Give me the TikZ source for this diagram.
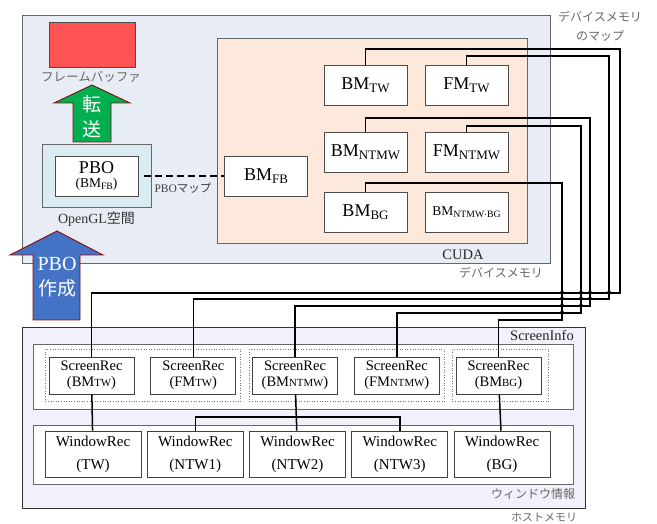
\documentclass[tikz,border=0pt]{standalone}
\usepackage{fontspec}
\usepackage{graphicx}
\setmainfont{Liberation Serif}
\newfontfamily\jp{Noto Sans CJK JP}

% subscripts of the buffer names
\newcommand\lo[1]{\raisebox{-0.35ex}{\scalebox{0.72}{#1}}}
\newcommand\sm[1]{\scalebox{0.75}{#1}}

\definecolor{devfill}{RGB}{232,237,245}
\definecolor{cudafill}{RGB}{252,233,219}
\definecolor{glfill}{RGB}{218,236,242}
\definecolor{hostfill}{RGB}{241,241,252}
\definecolor{fbred}{RGB}{255,82,82}
\definecolor{sendgreen}{RGB}{0,176,80}
\definecolor{pboblue}{RGB}{68,114,196}
\definecolor{edgered}{RGB}{140,10,10}

\tikzset{
  area/.style={draw=black!60, line width=0.9pt, inner sep=0pt, anchor=north west},
  buf/.style={draw=black!70, fill=white, line width=0.9pt, inner sep=0pt,
    minimum width=83pt, minimum height=40pt, font=\fontsize{18}{18}\selectfont},
  srec/.style={draw=black!75, fill=white, line width=0.9pt, inner sep=0pt, align=center,
    minimum width=85pt, minimum height=37pt, font=\fontsize{14.5}{16}\selectfont},
  wrec/.style={draw=black!75, fill=white, line width=0.9pt, inner sep=0pt, align=center,
    minimum width=96pt, minimum height=46pt, font=\fontsize{15}{23}\selectfont},
  grp/.style={draw=black!55, dotted, line width=0.6pt, inner sep=0pt, anchor=north west},
  memlbl/.style={text=black!60, inner sep=0pt, font=\jp\fontsize{12}{19}\selectfont, align=center},
  wire/.style={line width=1.5pt},
  bigarrow/.style={draw=edgered, line width=0.9pt},
}

\begin{document}
\begin{tikzpicture}[x=1pt,y=-1pt]
\useasboundingbox (0,0) rectangle (657,524);

% device memory side
\node[area, fill=devfill, minimum width=528pt, minimum height=248pt] (devmem) at (22,15) {};
\node[area, fill=cudafill, minimum width=310pt, minimum height=205pt] (cuda) at (217,38) {};
\node[buf] (bmtw) at (365.5,85.5) {BM\lo{TW}};
\node[buf] (fmtw) at (466.5,85.5) {FM\lo{TW}};
\node[buf] (bmntmw) at (365.5,152.5) {BM\lo{NTMW}};
\node[buf] (fmntmw) at (466.5,152.5) {FM\lo{NTMW}};
\node[buf] (bmbg) at (365.5,212) {BM\lo{BG}};
\node[buf, font=\fontsize{13.5}{14}\selectfont] (bmnb) at (466.5,212) {BM\lo{NTMW$\cdot$BG}};
\node[buf] (bmfb) at (266,176) {BM\lo{FB}};
\node[text=black!85, font=\fontsize{14.5}{15}\selectfont] (cudalbl) at (463,255) {CUDA};
\node[memlbl] (devlbl) at (501,273) {デバイスメモリ};
\node[memlbl] (maplbl) at (600,26) {デバイスメモリ\\のマップ};

% OpenGL side
\node[area, fill=glfill, minimum width=109pt, minimum height=63pt] (glspace) at (42,144) {};
\node[buf, align=center] (pbo) at (96.5,176)
  {PBO\\[-4pt]{\fontsize{13.5}{14}\selectfont(BM\lo{FB})}};
\node[text=black!80, font=\fontsize{14}{14}\selectfont] (gllbl) at (96.5,219) {OpenGL{\jp 空間}};
\node[draw=black!70, fill=fbred, line width=0.9pt, minimum width=86pt, minimum height=45pt,
  inner sep=0pt] (fb) at (92,44.5) {};
\node[memlbl, font=\jp\fontsize{12.5}{13}\selectfont] (fblbl) at (91,77) {フレームバッファ};

\draw[line width=1.3pt, dash pattern=on 7pt off 4pt] (pbo.east) ++(6,0) coordinate (pbomap) -- (bmfb.west);
\node[text=black!75, font=\fontsize{11.5}{12}\selectfont] (maptxt) at (183,188) {PBO{\jp マップ}};

% transfer and creation arrows
\draw[bigarrow, fill=sendgreen] (73,142) -- (73,103) -- (54,103) -- (92,85) -- (130,103)
  -- (111,103) -- (111,142) -- cycle;
\node[text=white, font=\jp\fontsize{19}{25}\selectfont, align=center] (sendlbl) at (92,117) {転\\送};
\draw[bigarrow, fill=pboblue] (33,320) -- (33,255) -- (10,255) -- (57,231) -- (103,255)
  -- (80,255) -- (80,320) -- cycle;
\node[text=white, font=\fontsize{20}{20}\selectfont] (mklbl1) at (57,264) {PBO};
\node[text=white, font=\jp\fontsize{19}{19}\selectfont] (mklbl2) at (57,288) {作成};

% host memory side
\node[area, draw=black!80, fill=hostfill, minimum width=563pt, minimum height=181pt] (hostmem) at (22,327) {};
\node[area, fill=white, minimum width=540pt, minimum height=65pt] (scrinfo) at (33,344) {};
\node[area, fill=white, minimum width=540pt, minimum height=59pt] (wininfo) at (33,425) {};
\node[grp, minimum width=195pt, minimum height=52pt] (grp1) at (45,349) {};
\node[grp, minimum width=195pt, minimum height=52pt] (grp2) at (249,349) {};
\node[grp, minimum width=96pt, minimum height=52pt] (grp3) at (452,349) {};
\node[text=black!85, font=\fontsize{14.5}{15}\selectfont] (silbl) at (542,335) {ScreenInfo};
\node[memlbl] (wilbl) at (533,494) {ウィンドウ情報};
\node[memlbl, font=\jp\fontsize{11}{11}\selectfont] (hostlbl) at (544,517) {ホストメモリ};

\node[srec] (srbmtw) at (91.5,375.5) {ScreenRec\\(BM\sm{TW})};
\node[srec] (srfmtw) at (193.3,375.5) {ScreenRec\\(FM\sm{TW})};
\node[srec] (srbmntmw) at (295,375.5) {ScreenRec\\(BM\sm{NTMW})};
\node[srec] (srfmntmw) at (396.8,375.5) {ScreenRec\\(FM\sm{NTMW})};
\node[srec] (srbmbg) at (498.5,375.5) {ScreenRec\\(BM\sm{BG})};

\node[wrec] (wrtw) at (93,454) {WindowRec\\(TW)};
\node[wrec] (wrntwa) at (195.3,454) {WindowRec\\(NTW1)};
\node[wrec] (wrntwb) at (297.5,454) {WindowRec\\(NTW2)};
\node[wrec] (wrntwc) at (399.8,454) {WindowRec\\(NTW3)};
\node[wrec] (wrbg) at (502,454) {WindowRec\\(BG)};

% screen records to window records
\draw[wire] (srbmtw) -- (wrtw);
\draw[wire] (srbmntmw) -- (wrntwb);
\draw[wire] (wrntwa.north) |- (299,417) -| (wrntwc.north);
\draw[wire] (srbmbg) -- (wrbg);

% device memory map
\draw[wire] (bmtw.north) |- (620,49) -- (620,293) -| (srbmtw.north);
\draw[wire] (fmtw.north) |- (609,56) -- (609,299) -| (srfmtw.north);
\draw[wire] (bmntmw.north) |- (590,118) -- (590,306) -| (srbmntmw.north);
\draw[wire] (fmntmw.north) |- (581,126) -- (581,313) -| (srfmntmw.north);
\draw[wire] (bmbg.north) |- (562,183) -- (562,320) -| (srbmbg.north);
% jump marks where the wires cross
\foreach \jx/\jy in {562/293,562/299,562/306,562/313,581/293,581/299,581/306,590/293,590/299,609/293}
  \fill (\jx-2.5,\jy) -- (\jx,\jy-3.5) -- (\jx+2.5,\jy) -- cycle;
\end{tikzpicture}
\end{document}
